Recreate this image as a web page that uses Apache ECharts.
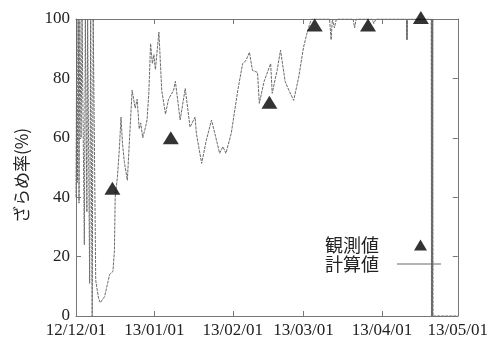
<!DOCTYPE html>
<html>
<head>
<meta charset="utf-8">
<script src="https://cdn.jsdelivr.net/npm/echarts@6/dist/echarts.min.js"></script>
<style>
html, body { margin: 0; padding: 0; background: #fff; }
#chart { width: 491px; height: 342px; }
</style>
</head>
<body>
<div id="chart"></div>
<script>
// days counted from 12/12/01
var tickDays = [0, 31, 62, 90, 121, 151];
var tickLabels = ['12/12/01', '13/01/01', '13/02/01', '13/03/01', '13/04/01', '13/05/01'];

// 観測値
var obsDays = [14.4, 37.5, 76.5, 94.4, 115.5, 136.4];
var obsValues = [43, 60, 72, 98, 98, 100.5];

// 計算値
var calcDays = [0, 0.3, 0.6, 0.9, 1.2, 1.5, 2.0, 2.4, 3.3, 3.7, 4.3, 4.6, 5.4, 5.8, 6.4, 6.8,
	7.8, 8.9, 9.6, 10.2, 11.3, 13.3, 14.6, 15.2, 15.5, 16.4, 17.2, 17.8, 18.4, 19.1, 20.3,
	21.2, 22.2, 23.4, 24.2, 25.0, 25.6, 26.4, 27.6, 28.1, 28.8, 29.5, 30.2, 30.8, 31.4,
	32.8, 33.9, 35.4, 36.6, 38.6, 39.3, 41.2, 43.2,
	45.1, 47.1, 47.6, 49.7, 51.5, 53.6, 54.9, 56.8, 58.1, 59.3, 61.4, 64, 65.9, 67.2, 68.6,
	69.8, 71.8, 72.5, 74.4, 77, 77.6, 79.6, 80.9, 82.7, 84.2, 86.1, 88.1, 90, 91.3, 92.5,
	93.2, 100.3, 100.9, 101.4, 102.2, 103, 103.8, 109.6, 110.2, 110.8, 117, 117.8, 118.6,
	130.7, 130.8, 130.9, 131, 131.1, 131.2, 140.5, 140.6, 140.7, 140.8, 140.9, 141, 141.1,
	141.2, 151];
var calcValues = [40, 100, 45, 100, 38, 100, 60, 100, 24, 100, 35, 100, 11, 100, 0, 100,
	12, 6, 4.5, 4.5, 6.5, 14, 15, 22, 40, 47, 57, 67, 58, 52, 45.7,
	60, 76, 70, 73, 63, 65, 60, 64, 66, 75, 91.7, 85, 88, 83,
	95.6, 76, 68, 73, 76, 79, 66, 76.6,
	63.6, 67, 61.5, 51.4, 59, 66, 61.5, 54.8, 57, 54.8, 61.5, 76, 85, 86, 88.8,
	82.7, 82, 71.6, 79, 85, 75, 83, 89.5, 79, 76, 72.6, 80.5, 90.5, 95, 98.5,
	100, 100, 93, 100, 97, 100, 100, 100, 97, 100, 100, 98.5, 100,
	100, 93, 100, 93, 100, 100, 100, 0, 100, 0, 100, 0, 100,
	0, 0];

var obsData = obsDays.map(function(d, i) { return [d, obsValues[i]]; });
var calcData = calcDays.map(function(d, i) { return [d, calcValues[i]]; });

var myChart = echarts.init(document.getElementById('chart'));
var serif = '"Liberation Serif", "Times New Roman", serif';
var gothic = '"Noto Sans CJK JP", sans-serif';
var axisGray = '#777';
var lineGray = '#6a6a6a';

function xAx(pos, showLabel) {
	return {
		type: 'value', position: pos, min: 0, max: 151,
		axisLine: { show: true, onZero: false, lineStyle: { color: axisGray, width: 1 } },
		axisTick: { show: true, inside: true, length: 5, customValues: tickDays, lineStyle: { color: axisGray } },
		axisLabel: {
			show: showLabel, customValues: tickDays, margin: 6,
			color: '#222', fontFamily: serif, fontSize: 17,
			formatter: function(v) { return tickLabels[tickDays.indexOf(v)]; }
		},
		splitLine: { show: false }
	};
}
function yAx(pos, showLabel) {
	var a = {
		type: 'value', position: pos, min: 0, max: 100, interval: 20,
		axisLine: { show: true, onZero: false, lineStyle: { color: axisGray, width: 1 } },
		axisTick: { show: true, inside: true, length: 5, lineStyle: { color: axisGray } },
		axisLabel: { show: showLabel, margin: 6, color: '#222', fontFamily: serif, fontSize: 17 },
		splitLine: { show: false }
	};
	if (showLabel) {
		a.name = 'ざらめ率(%)';
		a.nameLocation = 'middle';
		a.nameGap = 46;
		a.nameTextStyle = { color: '#222', fontFamily: gothic, fontSize: 17, padding: [0, 16, 0, 0] };
	}
	return a;
}

var option = {
	animation: false,
	backgroundColor: '#fff',
	grid: { left: 76, right: 28, top: 19, bottom: 26 },
	xAxis: [xAx('bottom', true), xAx('top', false)],
	yAxis: [yAx('left', true), yAx('right', false)],
	legend: [{
		orient: 'vertical', align: 'right', padding: 0,
		left: 325, top: 236,
		itemWidth: 13, itemHeight: 11,
		textStyle: { color: '#222', fontFamily: gothic, fontSize: 18, padding: [0, 30, 0, 0] },
		data: [{ name: '観測値', icon: 'triangle', itemStyle: { color: '#000' } }]
	}, {
		orient: 'vertical', align: 'right', padding: 0,
		left: 325, top: 255,
		itemWidth: 44, itemHeight: 1,
		textStyle: { color: '#222', fontFamily: gothic, fontSize: 18, padding: [0, 13, 0, 0] },
		data: [{ name: '計算値', icon: 'rect', itemStyle: { color: lineGray } }]
	}],
	series: [{
		name: '計算値',
		type: 'line',
		data: calcData,
		symbol: 'none',
		itemStyle: { color: lineGray },
		lineStyle: { color: lineGray, width: 1, type: [3, 1] },
		z: 2
	}, {
		name: '観測値',
		type: 'scatter',
		data: obsData,
		symbol: 'triangle',
		symbolSize: [16, 13],
		clip: false,
		itemStyle: { color: '#000' },
		z: 3
	}]
};
myChart.setOption(option);
</script>
</body>
</html>
